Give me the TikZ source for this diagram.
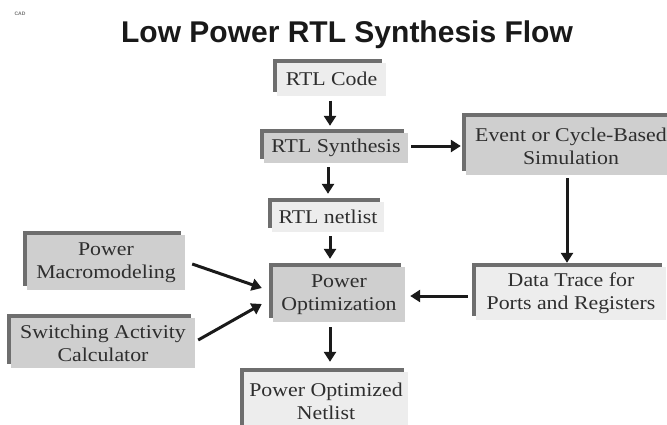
\documentclass[tikz,border=0pt]{standalone}
\usepackage{fontspec}
\setmainfont{Liberation Serif}[FakeStretch=1.12]
\newfontfamily\titlefont{Liberation Sans}
\usetikzlibrary{arrows.meta,shadows}
\definecolor{txt}{HTML}{2E2E2E}
\definecolor{bdr}{HTML}{6E6E6E}
\definecolor{gfill}{HTML}{CFCFCF}
\definecolor{lfill}{HTML}{EDEDED}
\definecolor{arrc}{HTML}{1A1A1A}
\begin{document}
\begin{tikzpicture}[x=1pt,y=-1pt,
  box/.style={draw=none, inner sep=0pt, align=center, text=txt,
    font=\fontsize{19.5}{23}\selectfont,
    general shadow={fill=bdr, shadow xshift=-4pt, shadow yshift=4pt}},
  gbox/.style={box, fill=gfill},
  lbox/.style={box, fill=lfill},
  arr/.style={line width=3pt, draw=arrc, -{Triangle[length=10pt,width=12pt]}}]
\useasboundingbox (0,0) rectangle (667,424);
\fill[white] (0,0) rectangle (667,424);

\node[text=black!55, font=\fontsize{5}{6}\selectfont\bfseries\titlefont] (cad) at (20,14) {CAD};
\node[anchor=base, text=black!90, font=\fontsize{30}{34}\selectfont\bfseries\titlefont] (title) at (347,42) {Low Power RTL Synthesis Flow};

\node[lbox, minimum width=109pt, minimum height=33pt] (code) at (331.5,79) {RTL Code};
\node[gbox, minimum width=144pt, minimum height=30pt] (syn) at (336,148) {RTL Synthesis};
\node[gbox, minimum width=210pt, minimum height=58pt] (event) at (571,146) {Event or Cycle-Based\\Simulation};
\node[lbox, minimum width=112pt, minimum height=30pt] (net) at (328,217) {RTL netlist};
\node[gbox, minimum width=158pt, minimum height=55pt] (macro) at (106,262.5) {Power\\Macromodeling};
\node[gbox, minimum width=184pt, minimum height=50pt] (switch) at (103,343) {Switching Activity\\Calculator};
\node[gbox, minimum width=132pt, minimum height=55pt] (popt) at (339,294.5) {Power\\Optimization};
\node[lbox, minimum width=190pt, minimum height=53pt] (data) at (571,293.5) {Data Trace for\\Ports and Registers};
\node[lbox, minimum width=164pt, minimum height=58pt] (pon) at (326,401) {Power Optimized\\Netlist};

\draw[arr, shorten <=5pt, shorten >=7pt] ([xshift=-1.5pt]code.south) -- ([xshift=-6pt]syn.north);
\draw[arr, shorten <=3pt, shorten >=5pt] ([yshift=2pt]syn.east) -- (event.west);
\draw[arr, shorten <=4pt, shorten >=8pt] ([xshift=-8pt]syn.south) -- (net.north);
\draw[arr, shorten <=4pt, shorten >=8pt] ([xshift=2pt]net.south) -- ([xshift=-9pt]popt.north);
\draw[arr, shorten <=3pt, shorten >=4pt] ([xshift=-4pt]event.south) -- ([xshift=-4pt]data.north);
\draw[arr, shorten <=8pt, shorten >=5pt] ([yshift=-2.5pt]data.west) -- ([yshift=-1.5pt]popt.east);
\draw[arr] ([shift={(7,1.5)}]macro.east) -- ([shift={(-11,-6.5)}]popt.west);
\draw[arr] ([shift={(3,-3)}]switch.east) -- ([shift={(-11,9.5)}]popt.west);
\draw[arr, shorten <=5pt, shorten >=10pt] ([xshift=-9pt]popt.south) -- ([xshift=4pt]pon.north);
\end{tikzpicture}
\end{document}
